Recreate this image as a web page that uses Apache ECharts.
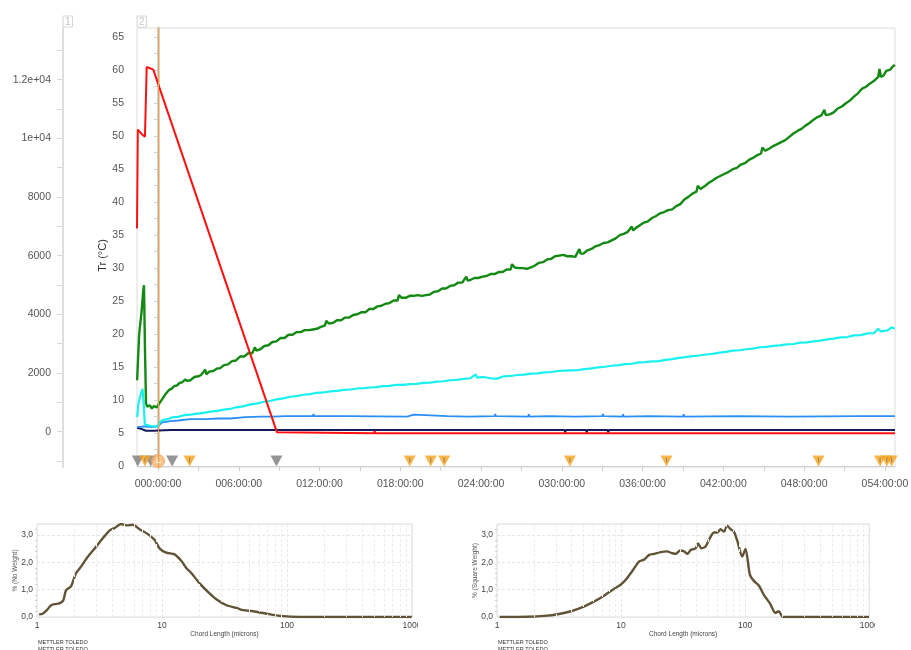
<!DOCTYPE html>
<html>
<head>
<meta charset="utf-8">
<script src="https://cdn.jsdelivr.net/npm/echarts@6/dist/echarts.min.js"></script>
<style>
  html, body { margin: 0; padding: 0; background: #fff; width: 911px; height: 650px; overflow: hidden; }
  #trend { position: absolute; left: 0; top: 0; width: 911px; height: 500px; }
  #nw { position: absolute; left: 0; top: 500px; width: 418px; height: 150px; }
  #sw { position: absolute; left: 460px; top: 500px; width: 415px; height: 150px; }
</style>
</head>
<body>
<div id="trend"></div>
<div id="nw"></div>
<div id="sw"></div>
<script>
// ---- trend axes ----
const hourLabels = [0, 6, 12, 18, 24, 30, 36, 42, 48, 54];
const hourTicks = [0, 3, 6, 9, 12, 15, 18, 21, 24, 27, 30, 33, 36, 39, 42, 45, 48, 51, 54];
const trLabels = [0, 5, 10, 15, 20, 25, 30, 35, 40, 45, 50, 55, 60, 65];
const trTicks = [0, 2.5, 5, 7.5, 10, 12.5, 15, 17.5, 20, 22.5, 25, 27.5, 30, 32.5, 35, 37.5, 40, 42.5, 45, 47.5, 50, 52.5, 55, 57.5, 60, 62.5, 65];
const rawLabels = [0, 2000, 4000, 6000, 8000, 10000, 12000];
const rawTicks = [-1000, 0, 1000, 2000, 3000, 4000, 5000, 6000, 7000, 8000, 9000, 10000, 11000, 12000, 13000];

// ---- trend series: [hours, °C] ----
const redTr = [[-1.56,36],[-1.5,51],[-1.46,50.9],[-1.2,50.3],[-0.97,49.9],[-0.84,60.5],[-0.6,60.3],[-0.35,60.1],
  [8.84,5.1],[8.95,4.95],[16.05,4.95],[16.1,5.3],[16.15,4.95],[54.75,4.95]];

const greenTr = [[-1.55,13],[-1.4,20],[-1.21,23.6],[-1.1,26.5],[-1.04,27.4],[-0.97,18],[-0.89,9.5],[-0.8,9.0],
  [-0.6,9.2],[-0.45,8.7],[-0.3,9.1],[-0.1,8.9],[0,9.2],[0.2,9.8],[0.4,10.4],[0.6,11.0],[0.8,11.5],[1.0,11.7],
  [1.2,12.1],[1.4,12.2],[1.6,12.6],[1.8,12.7],[2.0,13.1],[2.2,12.9],[2.4,13.0],[2.7,13.5],[3.0,13.6],[3.2,13.8],
  [3.5,14.6],[3.6,13.9],[3.8,14.3],[4.1,14.4],[4.4,14.8],[4.6,14.8],[4.9,15.3],[5.2,15.4],[5.5,15.9],[5.8,16.0],
  [6.1,16.6],[6.4,16.6],[6.7,17.1],[7.0,17.1],[7.2,18.0],[7.3,17.5],[7.6,17.7],[7.9,18.2],[8.2,18.3],[8.5,18.8],
  [8.8,18.9],[9.1,19.4],[9.4,19.4],[9.7,19.9],[10.0,19.9],[10.3,20.3],[10.6,20.3],[10.9,20.6],[11.2,20.6],
  [11.5,20.7],[11.8,20.8],[12.1,21.1],[12.4,21.3],[12.5,22.0],[12.7,21.6],[13.0,21.7],[13.3,22.1],[13.6,22.1],
  [13.9,22.5],[14.2,22.5],[14.5,22.9],[14.8,23.0],[15.1,23.3],[15.4,23.3],[15.7,23.8],[16.0,23.8],[16.3,24.2],
  [16.6,24.3],[16.9,24.6],[17.2,24.7],[17.5,25.1],[17.8,25.1],[17.9,25.9],[18.1,25.5],[18.4,25.5],[18.7,25.8],
  [19.0,25.8],[19.3,25.9],[19.6,25.8],[19.9,25.9],[20.2,26.0],[20.5,26.4],[20.8,26.5],[21.1,26.9],[21.4,26.9],
  [21.7,27.3],[22.0,27.4],[22.3,27.8],[22.6,27.8],[22.9,28.7],[23.0,28.1],[23.2,28.2],[23.5,28.5],[23.8,28.5],
  [24.1,28.7],[24.4,28.8],[24.7,29.1],[25.0,29.1],[25.3,29.4],[25.6,29.4],[25.9,29.8],[26.2,29.8],[26.3,30.6],
  [26.5,30.1],[26.8,30.0],[27.1,30.0],[27.4,29.9],[27.7,30.1],[28.0,30.4],[28.3,30.8],[28.6,30.9],[28.9,31.3],
  [29.2,31.4],[29.5,31.8],[29.8,31.9],[30.1,32.0],[30.4,31.8],[30.7,31.8],[31.0,31.7],[31.3,32.9],[31.4,32.2],
  [31.6,32.2],[31.9,32.7],[32.2,32.9],[32.5,33.3],[32.8,33.5],[33.1,33.8],[33.4,33.9],[33.7,34.2],[34.0,34.5],
  [34.3,35.0],[34.6,35.2],[34.9,35.5],[35.2,36.3],[35.3,35.7],[35.5,36.1],[35.8,36.5],[36.1,36.9],[36.4,37.1],
  [36.7,37.6],[37.0,37.9],[37.3,38.3],[37.6,38.5],[37.9,38.8],[38.2,38.9],[38.5,39.4],[38.8,39.7],[39.1,40.4],
  [39.4,40.8],[39.7,41.3],[40.0,41.6],[40.1,42.5],[40.3,42.0],[40.6,42.4],[40.9,42.9],[41.2,43.3],[41.5,43.7],
  [41.8,44.0],[42.1,44.3],[42.4,44.6],[42.7,45.0],[43.0,45.2],[43.3,45.7],[43.6,45.9],[43.9,46.4],[44.2,46.7],
  [44.5,47.1],[44.8,47.4],[44.9,48.3],[45.1,47.8],[45.4,48.1],[45.7,48.5],[46.0,48.8],[46.3,49.1],[46.6,49.4],
  [46.9,49.9],[47.2,50.4],[47.5,50.8],[47.8,51.1],[48.1,51.6],[48.4,52.0],[48.7,52.5],[49.0,52.9],[49.3,53.2],
  [49.5,54.0],[49.6,53.2],[49.9,53.3],[50.2,53.6],[50.5,54.2],[50.8,54.5],[51.1,55.0],[51.4,55.4],[51.7,56.0],
  [52.0,56.5],[52.3,57.2],[52.6,57.5],[52.9,58.0],[53.2,58.4],[53.5,59.0],[53.6,60.2],[53.7,59.0],[53.9,59.2],
  [54.1,59.9],[54.4,60.1],[54.6,60.6],[54.75,60.8]];

const cyanTr = [[-1.55,7.4],[-1.45,9.5],[-1.3,10.8],[-1.15,11.7],[-1.05,9.0],[-0.98,6.3],[-0.9,6.0],[-0.5,6.05],
  [-0.1,6.0],[0.05,6.2],[0.15,6.7],[0.4,7.0],[0.7,7.1],[1.1,7.4],[1.5,7.45],[1.9,7.7],[2.4,7.8],[2.9,7.95],
  [3.4,8.05],[3.9,8.25],[4.4,8.35],[4.9,8.55],[5.35,8.65],[5.8,8.9],[6.3,9.05],[6.8,9.3],[7.3,9.45],[7.8,9.7],
  [8.3,9.85],[8.8,10.1],[9.3,10.25],[9.8,10.5],[10.3,10.6],[10.8,10.8],[11.3,10.9],[11.8,11.1],[12.3,11.15],
  [12.8,11.3],[13.3,11.4],[13.8,11.55],[14.3,11.6],[14.8,11.75],[15.3,11.8],[15.75,11.9],[16.2,11.95],[16.7,12.1],
  [17.2,12.15],[17.7,12.3],[18.2,12.3],[18.7,12.4],[19.2,12.45],[19.7,12.6],[20.2,12.65],[20.7,12.8],[21.2,12.85],
  [21.7,13.0],[22.2,13.05],[22.7,13.2],[23.2,13.3],[23.6,13.9],[23.7,13.4],[24.2,13.5],[24.7,13.3],[25.2,13.25],
  [25.7,13.6],[26.2,13.65],[26.7,13.8],[27.2,13.85],[27.7,14.0],[28.2,14.05],[28.7,14.2],[29.2,14.25],[29.7,14.4],
  [30.2,14.45],[30.7,14.5],[31.2,14.55],[31.7,14.7],[32.2,14.8],[32.7,14.95],[33.2,15.05],[33.7,15.2],[34.2,15.3],
  [34.7,15.45],[35.2,15.5],[35.7,15.7],[36.2,15.75],[36.7,15.85],[37.2,15.9],[37.7,16.1],[38.2,16.2],[38.7,16.4],
  [39.2,16.5],[39.7,16.65],[40.2,16.75],[40.7,16.9],[41.2,17.0],[41.7,17.2],[42.2,17.3],[42.7,17.5],[43.2,17.55],
  [43.7,17.7],[44.2,17.8],[44.7,18.0],[45.2,18.05],[45.7,18.2],[46.2,18.3],[46.7,18.45],[47.2,18.5],[47.7,18.7],
  [48.2,18.75],[48.7,18.9],[49.2,19.0],[49.7,19.2],[50.2,19.3],[50.7,19.5],[51.2,19.55],[51.7,19.8],[52.2,19.85],
  [52.7,20.1],[53.2,20.15],[53.5,20.8],[53.7,20.4],[54.2,20.55],[54.5,21.0],[54.75,20.85]];

const blueTr = [[-1.55,5.9],[-1.0,6.0],[-0.5,5.9],[0,6.0],[0.1,6.3],[0.3,6.6],[0.6,6.7],[0.9,6.8],[1.5,6.9],
  [2.4,7.1],[3.5,7.1],[4.5,7.2],[5.35,7.2],[6.5,7.4],[7.6,7.5],[8.5,7.5],[9.5,7.55],[11.5,7.55],[11.55,7.9],
  [11.6,7.55],[14.0,7.55],[14.05,7.85],[14.1,7.55],[18.5,7.5],[19.0,7.8],[19.1,7.5],[21.5,7.55],[21.55,7.85],
  [21.6,7.55],[23.0,7.5],[23.05,7.8],[23.1,7.5],[25.0,7.55],[25.05,7.9],[25.1,7.55],[27.5,7.5],[27.55,7.85],
  [27.6,7.5],[29.0,7.55],[29.05,7.85],[29.1,7.55],[31.0,7.5],[31.05,7.8],[31.1,7.5],[33.0,7.55],[33.05,7.9],
  [33.1,7.55],[34.5,7.5],[34.55,7.85],[34.6,7.5],[36.5,7.55],[36.55,7.8],[36.6,7.55],[39.0,7.5],[39.05,7.85],
  [39.1,7.5],[43.0,7.55],[43.05,7.8],[43.1,7.55],[47.0,7.5],[47.05,7.8],[47.1,7.5],[52.0,7.55],[52.05,7.8],
  [52.1,7.55],[54.75,7.55]];

const navyTr = [[-1.55,5.8],[-1.2,5.6],[-0.9,5.35],[-0.3,5.35],[0,5.4],[1,5.45],[30.2,5.45],[30.25,5.1],
  [30.3,5.45],[31.0,5.45],[31.05,5.15],[31.1,5.45],[31.8,5.45],[31.85,5.1],[31.9,5.45],[32.6,5.45],[32.65,5.15],
  [32.7,5.45],[33.4,5.45],[33.45,5.1],[33.5,5.45],[34.2,5.45],[34.25,5.2],[34.3,5.45],[35.0,5.45],[35.05,5.2],
  [35.1,5.45],[54.75,5.45]];

// ---- event markers (hours) ----
const grayEvents = [-1.5, -0.54, 1.05, 8.8];
const orangeEvents = [-0.97, 2.35, 18.7, 20.26, 21.26, 30.6, 37.78, 49.07, 53.64, 54.14, 54.5];
const timeZero = [0];

// ---- chord length distributions: [microns, %] ----
const noWeight = [[1.04,0.1],[1.1,0.11],[1.2,0.25],[1.29,0.42],[1.38,0.47],[1.51,0.5],[1.62,0.6],[1.71,0.98],
  [1.87,1.12],[2.05,1.6],[2.25,1.84],[2.55,2.2],[2.97,2.57],[3.36,2.88],[3.8,3.16],[4.17,3.25],[4.72,3.40],
  [5.17,3.35],[5.85,3.37],[6.61,3.21],[7.71,3.03],[8.71,2.82],[9.55,2.51],[10.8,2.35],[12.6,2.29],[14.3,2.05],
  [15.7,1.78],[17.2,1.6],[20,1.23],[23.3,0.92],[27.2,0.65],[32.8,0.43],[39.4,0.33],[44.6,0.25],[53.6,0.21],
  [68.6,0.12],[87.7,0.04],[127,0.0],[200,0],[400,0],[995,0]];
const squareWeight = [[1.05,0],[1.77,0.01],[2.41,0.04],[3.09,0.1],[3.95,0.21],[5.06,0.39],[6.08,0.57],[7.33,0.79],
  [8.55,1.0],[9.97,1.19],[10.9,1.36],[12.4,1.70],[14.0,2.03],[15.4,2.1],[16.8,2.27],[18.5,2.31],[20.9,2.37],
  [23.3,2.4],[25.9,2.33],[27.6,2.31],[29.9,2.43],[32.2,2.4],[34.2,2.31],[36.4,2.45],[39.9,2.51],[41.7,2.69],
  [44.3,2.51],[48.0,2.58],[52.0,2.89],[56.0,3.09],[59.6,3.09],[63.4,3.21],[67.4,3.12],[71.6,3.34],[76.2,3.21],
  [81.1,3.12],[86.3,2.79],[94.6,2.21],[100.6,2.49],[109,1.55],[117,1.33],[128.8,1.15],[141.3,0.81],[158.7,0.49],
  [175,0.15],[186,0.21],[201.8,0],[400,0],[995,0]];
const psdLabels = [0, 1, 2, 3];
const logGrid = [2,3,4,5,6,7,8,9,20,30,40,50,60,70,80,90,200,300,400,500,600,700,800,900];

const FONT = '"Liberation Sans", Arial, sans-serif';
const fmtHours = h => String(h).padStart(3, '0') + ':00:00';
const fmtRaw = v => v >= 10000 ? (v / 10000) + 'e+04' : String(v);
const boxName = {
  color: '#c4c4c4', fontSize: 10, fontFamily: FONT, borderColor: '#d6d6d6', borderWidth: 1,
  padding: [1, 2, 0, 2], align: 'left', verticalAlign: 'bottom'
};
const at = (arr, y) => arr.map(h => [h, y]);
const markerLevel = 0.76;

const trend = echarts.init(document.getElementById('trend'), null, { renderer: 'canvas' });
trend.setOption({
  animation: false,
  grid: { left: 137, right: 16, top: 28, bottom: 33, show: true, borderColor: '#dcdcdc', borderWidth: 1,
    backgroundColor: 'transparent', outerBoundsMode: 'none' },
  xAxis: {
    type: 'value', min: -1.56, max: 54.75,
    axisLine: { show: true, lineStyle: { color: '#cfcfcf', width: 1 } },
    axisTick: { show: true, length: 5, lineStyle: { color: '#cfcfcf' }, customValues: hourTicks },
    axisLabel: { customValues: hourLabels, formatter: fmtHours, color: '#555', fontSize: 10.5, margin: 12, fontFamily: FONT },
    splitLine: { show: false }
  },
  yAxis: [
    {
      type: 'value', min: -0.15, max: 66.4, position: 'left',
      name: 'Tr (°C)', nameLocation: 'middle', nameGap: 29, nameMoveOverlap: false,
      nameTextStyle: { color: '#333', fontSize: 11, fontFamily: FONT, padding: [0, 16, 0, 0] },
      axisLine: { show: true, lineStyle: { color: '#d2d2d2', width: 3 } },
      axisTick: { show: true, length: 4, lineStyle: { color: '#d0d0d0' }, customValues: trTicks },
      axisLabel: { customValues: trLabels, color: '#555', fontSize: 10.5, margin: 13, fontFamily: FONT },
      splitLine: { show: false }
    },
    {
      type: 'value', min: -1203, max: 13762, position: 'left', offset: 74,
      name: '1', nameLocation: 'end', nameGap: 1, nameTextStyle: boxName,
      axisLine: { show: true, lineStyle: { color: '#dedede', width: 2 } },
      axisTick: { show: true, length: 6, lineStyle: { color: '#d6d6d6' }, customValues: rawTicks },
      axisLabel: { customValues: rawLabels, formatter: fmtRaw, color: '#555', fontSize: 10.5, margin: 12, fontFamily: FONT },
      splitLine: { show: false }
    },
    {
      type: 'value', min: -0.15, max: 66.4, position: 'left', offset: 0,
      name: '2', nameLocation: 'end', nameGap: 1, nameTextStyle: boxName,
      axisLine: { show: false }, axisTick: { show: false }, axisLabel: { show: false }, splitLine: { show: false }
    }
  ],
  series: [
    { type: 'line', name: 'navy', data: navyTr, showSymbol: false, lineStyle: { color: '#14195a', width: 2 }, z: 2 },
    { type: 'line', name: 'blue', data: blueTr, showSymbol: false, lineStyle: { color: '#2a8ef5', width: 1.8 }, z: 2 },
    { type: 'line', name: 'cyan', data: cyanTr, showSymbol: false, lineStyle: { color: '#19f0f0', width: 2.2 }, z: 2 },
    { type: 'line', name: 'green', data: greenTr, showSymbol: false, lineStyle: { color: '#138a13', width: 2.4 }, z: 2 },
    { type: 'line', name: 'Tr', data: redTr, showSymbol: false, lineStyle: { color: '#ff1010', width: 2 }, z: 3 },
    {
      type: 'scatter', data: at(grayEvents, markerLevel), symbol: 'triangle', symbolRotate: 180,
      symbolSize: [12, 11], itemStyle: { color: '#7b7b7b' }, silent: true, z: 4
    },
    {
      type: 'scatter', data: at(orangeEvents, markerLevel), symbol: 'triangle', symbolRotate: 180,
      symbolSize: [12, 11], itemStyle: { color: '#f9a21c' }, silent: true, z: 4
    },
    {
      type: 'scatter', data: at(orangeEvents, markerLevel), symbol: 'rect', symbolSize: [1.2, 5],
      symbolOffset: [0, -1], itemStyle: { color: '#8a7a66' }, silent: true, z: 5
    },
    {
      type: 'scatter', data: at(timeZero, markerLevel), symbol: 'circle', symbolSize: 13,
      itemStyle: { color: '#f8b676', borderColor: '#f3a04a', borderWidth: 1 }, silent: true, z: 4,
      markLine: {
        silent: true, symbol: ['none', 'none'], label: { show: false },
        lineStyle: { color: '#f6a33e', width: 1, type: 'solid' },
        data: timeZero.map(h => ({ xAxis: h }))
      }
    },
    {
      type: 'scatter', data: at(timeZero, markerLevel), symbol: 'path://M0,0 L0,5 L4,5 L0,5 Z',
      symbolSize: [4, 5], symbolOffset: [1, -1],
      itemStyle: { color: 'transparent', borderColor: '#ffffff', borderWidth: 1 }, silent: true, z: 5
    }
  ]
});

function psdOption(yName, data, rightGap) {
  return {
    animation: false,
    grid: { left: 37, right: rightGap, top: 24, bottom: 33, show: true, borderColor: '#dddddd', borderWidth: 1,
      outerBoundsMode: 'none' },
    xAxis: {
      type: 'log', logBase: 10, min: 1, max: 1000,
      name: 'Chord Length (microns)', nameLocation: 'middle', nameGap: 14, nameMoveOverlap: false,
      nameTextStyle: { color: '#444', fontSize: 6.5, fontFamily: FONT },
      axisLine: { show: false }, axisTick: { show: false },
      axisLabel: { color: '#444', fontSize: 8.5, margin: 4, fontFamily: FONT, formatter: v => String(v) },
      splitLine: { show: true, lineStyle: { color: '#e6e6e6', type: [3, 2], width: 1 } }
    },
    yAxis: {
      type: 'value', min: 0, max: 3.4, interval: 1,
      name: yName, nameLocation: 'middle', nameGap: 18, nameMoveOverlap: false,
      nameTextStyle: { color: '#555', fontSize: 6.5, fontFamily: FONT },
      axisLine: { show: false },
      axisTick: { show: false },
      minorTick: { show: true, splitNumber: 5, length: 2, lineStyle: { color: '#d0d0d0' } },
      axisLabel: { customValues: psdLabels, formatter: v => v.toFixed(1).replace('.', ','), color: '#444', fontSize: 8.5, margin: 4, fontFamily: FONT },
      splitLine: { show: true, lineStyle: { color: '#e6e6e6', type: [3, 2], width: 1 } }
    },
    graphic: [
      { type: 'text', left: 38, top: 139, style: { text: 'METTLER TOLEDO', fill: '#333', font: '5.5px ' + FONT } },
      { type: 'text', left: 38, top: 146, style: { text: 'METTLER TOLEDO', fill: '#333', font: '5.5px ' + FONT } }
    ],
    series: [{
      type: 'line', data, smooth: 0.25, showSymbol: false,
      lineStyle: { color: '#615436', width: 2.4 },
      markLine: {
        silent: true, symbol: ['none', 'none'], label: { show: false },
        lineStyle: { color: '#ececec', type: [3, 2], width: 1 },
        data: logGrid.map(v => ({ xAxis: v }))
      }
    }]
  };
}

echarts.init(document.getElementById('nw')).setOption(psdOption('% (No Weight)', noWeight, 6));
echarts.init(document.getElementById('sw')).setOption(psdOption('% (Square Weight)', squareWeight, 5.7));
</script>
</body>
</html>
